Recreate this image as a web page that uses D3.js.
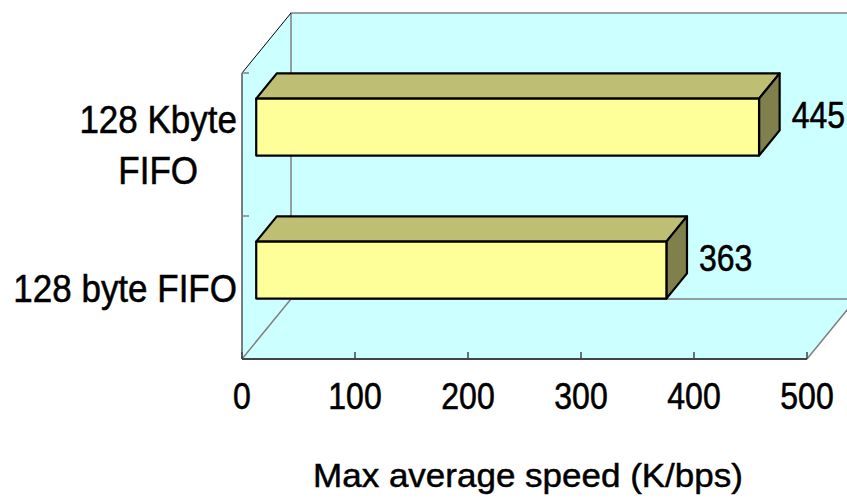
<!DOCTYPE html>
<html>
<head>
<meta charset="utf-8">
<script src="https://cdn.jsdelivr.net/npm/d3@7"></script>
<style>
  html, body { margin: 0; padding: 0; background: #fff; }
  svg { display: block; }
  text { font-family: "Liberation Sans", Arial, sans-serif; fill: #000; stroke: #000; stroke-width: 0.5px; }
</style>
</head>
<body>
<div id="chart"></div>
<script>
const categories = ["128 Kbyte FIFO", "128 byte FIFO"];
const categoryLines = [["128 Kbyte", "FIFO"], ["128 byte FIFO"]];
const values = [445, 363];
const xTicks = [0, 100, 200, 300, 400, 500];
const xTitle = "Max average speed (K/bps)";

const W = 847, H = 503;
const WALL = "#ccffff", BAR_FRONT = "#ffff99", BAR_TOP = "#bfbf73", BAR_SIDE = "#80804d";
const GRID = "#808080";

// depth of the 3d box: back plane is shifted by (dx, dy)
const depthX = 49, depthY = -60;
const barDepth0 = 0.29, barDepth1 = 0.71;

const svg = d3.select("#chart").append("svg").attr("width", W).attr("height", H);

const x = d3.scaleLinear().domain([0, 500]).range([242, 807]);
const y = d3.scaleBand().domain(categories).range([73, 359]).paddingInner(0);
const barH = 57;

function P(px, py, d) { return [px + d * depthX, py + d * depthY]; }
const line = d3.line();

const x0 = x(0), x1 = x(500), yTop = y.range()[0], yBot = y.range()[1];

// walls
const g = svg.append("g");
g.append("path").attr("fill", WALL)
  .attr("d", line([P(x0, yTop, 1), P(x1 + 60, yTop, 1), P(x1 + 60, yBot, 1), P(x0, yBot, 1)]) + "Z");
g.append("path").attr("fill", WALL)
  .attr("d", line([P(x0, yTop, 0), P(x0, yTop, 1), P(x0, yBot, 1), P(x0, yBot, 0)]) + "Z");
g.append("path").attr("fill", WALL)
  .attr("d", line([P(x0, yBot, 0), P(x1, yBot, 0), P(x1, yBot, 1), P(x0, yBot, 1)]) + "Z");

// gray back edges
g.append("path").attr("fill", "none").attr("stroke", GRID).attr("stroke-width", 1.5)
  .attr("d", line([P(x1 + 60, yTop, 1), P(x0, yTop, 1), P(x0, yBot, 1), P(x1 + 60, yBot, 1)]));
g.append("path").attr("fill", "none").attr("stroke", GRID).attr("stroke-width", 1.5)
  .attr("d", line([P(x0, yBot, 0), P(x0, yBot, 1)]));
g.append("path").attr("fill", "none").attr("stroke", GRID).attr("stroke-width", 1.5)
  .attr("d", line([P(x1, yBot, 0), P(x1, yBot, 1)]));

// left wall outline
g.append("path").attr("fill", "none").attr("stroke", "#000").attr("stroke-width", 1)
  .attr("d", line([P(x0, yBot, 0), P(x0, yTop, 0), P(x0, yTop, 1)]));

// category ticks on the left wall
const yTicks = [yTop].concat(categories.map(c => y(c) + y.bandwidth()));
g.selectAll(".ytick").data(yTicks).enter().append("line")
  .attr("x1", x0).attr("x2", x0 + 7)
  .attr("y1", d => d).attr("y2", d => d)
  .attr("stroke", GRID).attr("stroke-width", 1.5);

// floor front edge and x ticks
g.append("line").attr("x1", x0).attr("x2", x1).attr("y1", yBot).attr("y2", yBot)
  .attr("stroke", "#444").attr("stroke-width", 2);
g.selectAll(".xtick").data(xTicks).enter().append("line")
  .attr("x1", d => x(d)).attr("x2", d => x(d))
  .attr("y1", yBot).attr("y2", yBot - 7)
  .attr("stroke", "#444").attr("stroke-width", 1.5);

// bars
const bars = svg.append("g");
categories.forEach((c, i) => {
  const v = values[i];
  const cy = y(c) + y.bandwidth() / 2;
  const t = cy - barH / 2, b = cy + barH / 2;
  const l = x(0), r = x(v);
  const bg = bars.append("g").attr("stroke", "#000").attr("stroke-width", 2.2).attr("stroke-linejoin", "round");
  bg.append("path").attr("fill", BAR_TOP)
    .attr("d", line([P(l, t, barDepth0), P(r, t, barDepth0), P(r, t, barDepth1), P(l, t, barDepth1)]) + "Z");
  bg.append("path").attr("fill", BAR_SIDE)
    .attr("d", line([P(r, t, barDepth0), P(r, t, barDepth1), P(r, b, barDepth1), P(r, b, barDepth0)]) + "Z");
  bg.append("path").attr("fill", BAR_FRONT)
    .attr("d", line([P(l, t, barDepth0), P(r, t, barDepth0), P(r, b, barDepth0), P(l, b, barDepth0)]) + "Z");

  // value label
  const lp = P(r, cy, 0.5);
  svg.append("text")
    .attr("transform", `translate(${P(r, cy, barDepth1)[0] + 12},${lp[1] + 13}) scale(1,1.18)`)
    .attr("font-size", 32)
    .text(v);
});

// x tick labels
svg.selectAll(".xlab").data(xTicks).enter().append("text")
  .attr("transform", d => `translate(${x(d)},409) scale(1,1.13)`)
  .attr("text-anchor", "middle")
  .attr("font-size", 32)
  .text(d => d);

// category labels: wrapped block right-aligned, lines centered in block
categories.forEach((c, i) => {
  const lines = categoryLines[i];
  const cy = y(c) + y.bandwidth() / 2;
  const lh = 51;
  const tg = svg.append("g");
  const texts = lines.map((s, j) => tg.append("text")
    .attr("font-size", 35)
    .attr("text-anchor", "middle")
    .text(s));
  const widest = d3.max(texts, t => t.node().getComputedTextLength());
  const right = 237;
  const cx = right - widest / 2;
  const firstBase = cy + 14 - (lines.length - 1) * lh / 2;
  texts.forEach((t, j) => {
    t.attr("transform", `translate(${cx},${firstBase + j * lh}) scale(1,1.1)`);
  });
});

// axis title
svg.append("text")
  .attr("transform", "translate(528,487) scale(1,0.96)")
  .attr("text-anchor", "middle")
  .attr("font-size", 35)
  .text(xTitle);
</script>
</body>
</html>
